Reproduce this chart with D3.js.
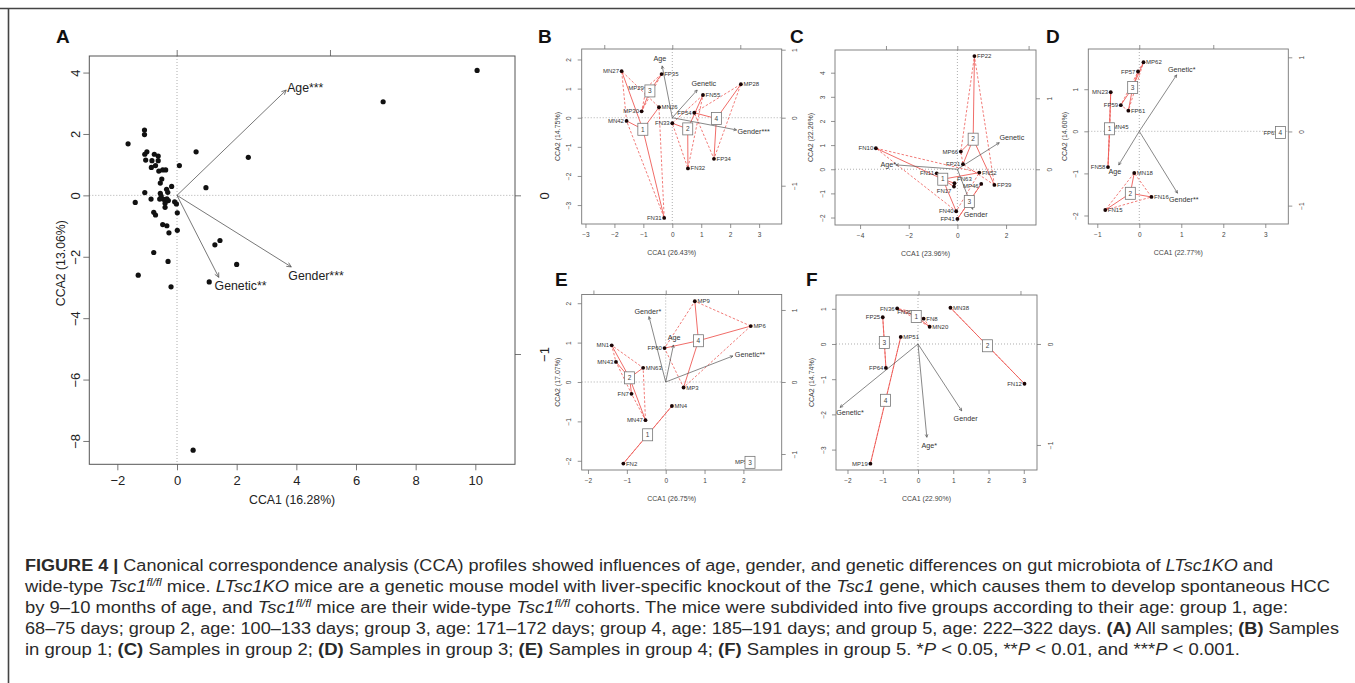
<!DOCTYPE html>
<html><head><meta charset="utf-8">
<script src="https://cdn.jsdelivr.net/npm/d3@7"></script>
<style>
body{margin:0;background:#fff}
svg{display:block}
text{font-family:"Liberation Sans",Arial,Helvetica,sans-serif}
</style>
</head><body>
<svg id="fig" width="1355" height="683"></svg>
<script>
// ================= DATA =================
// Panel A: all samples
const aX = [10.06,6.91,2.39,0.64,0.08,0.97,-1.09,-1.09,-1.64,-1.01,-1.08,-1.05,-0.76,-0.63,-0.84,-0.63,-0.72,-0.86,-0.61,-0.48,-0.38,-0.51,-0.56,-0.18,-0.35,-0.31,-1.08,-0.56,-0.53,-1.40,-0.87,-0.45,-0.37,-0.29,-0.08,-0.02,-0.40,-0.40,0.01,-0.78,-0.72,-0.48,-0.34,-0.27,0.01,1.44,1.27,2.00,-0.78,-0.30,-1.30,1.08,-0.20,0.54,-0.58,-0.34];
const aY = [4.07,3.05,1.24,1.42,0.97,0.25,2.13,1.98,1.68,1.42,1.34,1.15,1.34,1.28,1.13,1.13,0.97,0.91,0.79,0.83,0.83,0.53,0.40,0.29,0.20,0.10,0.09,0.07,-0.02,-0.23,-0.12,-0.13,-0.17,-0.17,-0.21,-0.28,-0.26,-0.39,-0.57,-0.55,-0.64,-0.95,-0.99,-1.22,-1.14,-1.47,-1.61,-2.25,-1.86,-2.15,-2.60,-2.82,-2.98,-8.30,-0.12,-0.11];
const aVars = ["Age***","Gender***","Genetic**"];
const aVarX = [3.66,3.83,1.40];
const aVarY = [3.43,-2.33,-2.67];
const aLabX = [4.30,4.66,2.13];
const aLabY = [3.52,-2.63,-2.95];

// Panel B: group 1
const bNames = ["MN27","FP35","MP29","MP30","MN26","MN42","FN33","FN55","FP54","MP28","FP34","FN32","FN31"];
const bX = [-1.75,-0.37,-0.89,-1.06,-0.46,-1.58,0.00,1.06,0.76,2.37,1.44,0.54,-0.28];
const bY = [1.60,1.50,1.04,0.22,0.36,-0.11,-0.19,0.78,0.17,1.15,-1.41,-1.74,-3.44];
const bGroup = [1,3,3,3,1,1,2,2,4,4,4,2,1];
const bVars = ["Age","Genetic","Gender***"];
const bVarX = [-0.35,0.86,2.22];
const bVarY = [1.78,0.95,-0.42];
const bLabX = [-0.43,1.09,2.81];
const bLabY = [2.04,1.18,-0.46];

// Panel C: group 2
const cNames = ["FP22","MP66","FP21","FN10","FN11","FN63","FN17","FN52","FP39","MP46","FN40","FP41"];
const cX = [0.70,0.14,0.23,-3.35,-0.85,-0.12,-0.14,0.90,1.52,0.98,-0.05,0.00];
const cY = [4.69,0.73,0.21,0.87,-0.17,-0.58,-0.72,-0.14,-0.65,-0.61,-1.74,-2.06];
const cGroup = [2,2,2,1,1,1,1,1,2,3,1,3];
const cVars = ["Age*","Genetic","Gender"];
const cVarX = [-2.53,1.72,0.63];
const cVarY = [0.18,1.10,-1.66];
const cLabX = [-2.84,2.24,0.75];
const cLabY = [0.21,1.32,-1.89];

// Panel D: group 3
const dNames = ["MP62","FP57","MN23","FP59","FP61","MN45","FN58","MN18","FN16","FN15","FP65"];
const dX = [0.10,-0.03,-0.68,-0.44,-0.26,-0.70,-0.745,-0.12,0.29,-0.81,3.36];
const dY = [1.64,1.42,0.93,0.62,0.49,0.10,-0.85,-0.99,-1.56,-1.87,-0.03];
const dGroup = [3,3,1,3,3,1,1,2,2,2,4];
const dVars = ["Genetic*","Age","Gender**"];
const dVarX = [0.89,-0.49,0.91];
const dVarY = [1.34,-0.80,-1.47];
const dLabX = [1.01,-0.58,1.06];
const dLabY = [1.48,-0.95,-1.63];

// Panel E: group 4
const eNames = ["MP9","MP6","FP60","MP3","MN1","MN43","MN63","FN7","MN47","MN4","FN2","MP5"];
const eX = [0.75,2.19,-0.03,0.46,-1.39,-1.28,-0.58,-0.88,-0.52,0.16,-1.09,2.17];
const eY = [2.05,1.42,0.86,-0.14,0.93,0.51,0.36,-0.30,-0.97,-0.61,-2.07,-2.04];
const eGroup = [4,4,4,4,2,2,2,2,2,1,1,3];
const eVars = ["Gender*","Age","Genetic**"];
const eVarX = [-0.43,0.20,1.73];
const eVarY = [1.66,0.94,0.66];
const eLabX = [-0.46,0.22,2.17];
const eLabY = [1.78,1.13,0.71];

// Panel F: group 5
const fNames = ["FN36","FN30","FN8","MN20","MN38","FN12","FP25","FP64","MP51","MP19"];
const fX = [-0.59,-0.10,0.16,0.33,0.92,3.02,-1.00,-0.91,-0.49,-1.35];
const fY = [1.01,0.90,0.72,0.49,1.03,-1.13,0.76,-0.68,0.20,-3.40];
const fGroup = [1,1,1,1,2,2,3,3,4,4];
const fVars = ["Genetic*","Gender","Age*"];
const fVarX = [-2.21,1.24,0.25];
const fVarY = [-1.80,-1.90,-2.65];
const fLabX = [-1.93,1.35,0.32];
const fLabY = [-1.95,-2.12,-2.88];

// axis titles
const xTitles = {A:"CCA1 (16.28%)",B:"CCA1 (26.43%)",C:"CCA1 (23.96%)",D:"CCA1 (22.77%)",E:"CCA1 (26.75%)",F:"CCA1 (22.90%)"};
const yTitles = {A:"CCA2 (13.06%)",B:"CCA2 (14.75%)",C:"CCA2 (22.26%)",D:"CCA2 (14.60%)",E:"CCA2 (17.07%)",F:"CCA2 (14.74%)"};

// sample labels drawn on the left side of their point
const leftLabels = new Set(["B:MN27","B:MP29","B:MP30","B:MN42","B:FN33","B:FP54","B:FN31",
 "C:MP66","C:FP21","C:FN10","C:FN11","C:FN17","C:MP46","C:FN40","C:FP41",
 "D:FP57","D:MN23","D:FP59","D:FN58","D:FP65",
 "E:FP60","E:MN1","E:MN43","E:FN7","E:MN47","E:MP5",
 "F:FN36","F:FN30","F:FP25","F:FP64","F:FN12","F:MP19"]);
// small vertical nudges (px) for crowded labels
const labelNudge = {"C:FN63":-4, "C:FN17":4, "C:MP46":2};

// ================= DRAW =================
const svg = d3.select("#fig");
const RED = "#ee5b57";
const fmt = d => d < 0 ? "\u2212" + Math.abs(d) : String(d);

// figure frame
svg.append("line").attr("x1",0).attr("x2",1355).attr("y1",8.5).attr("y2",8.5).attr("stroke","#444").attr("stroke-width",1.6);
svg.append("line").attr("x1",8.5).attr("x2",8.5).attr("y1",8).attr("y2",683).attr("stroke","#444").attr("stroke-width",1.6);

function arrow(g, x0, y0, x1, y1, head, color, w) {
  g.append("line").attr("x1",x0).attr("y1",y0).attr("x2",x1).attr("y2",y1)
    .attr("stroke",color).attr("stroke-width",w);
  const ang = Math.atan2(y1-y0, x1-x0);
  [Math.PI/7, -Math.PI/7].forEach(a => {
    g.append("line").attr("x1",x1).attr("y1",y1)
      .attr("x2",x1 - head*Math.cos(ang+a)).attr("y2",y1 - head*Math.sin(ang+a))
      .attr("stroke",color).attr("stroke-width",w);
  });
}

function frame(g, P) {
  const x = d3.scaleLinear().domain(P.xDom).range([P.l,P.r]);
  const y = d3.scaleLinear().domain(P.yDom).range([P.b,P.t]);
  const xt = d3.scaleLinear().domain(P.topDom).range([P.l,P.r]);
  const yr = d3.scaleLinear().domain(P.rightDom).range([P.b,P.t]);
  const fs = P.tickFont, tc = P.tickColor;
  // zero lines
  g.append("line").attr("x1",x(0)).attr("x2",x(0)).attr("y1",P.t).attr("y2",P.b)
    .attr("stroke","#999").attr("stroke-width",0.8).attr("stroke-dasharray","1,2");
  g.append("line").attr("x1",P.l).attr("x2",P.r).attr("y1",y(0)).attr("y2",y(0))
    .attr("stroke","#999").attr("stroke-width",0.8).attr("stroke-dasharray","1,2");
  // bottom axis
  const gb = g.append("g").attr("transform",`translate(0,${P.b})`)
    .call(d3.axisBottom(x).tickValues(P.xTicks).tickSize(P.tick).tickPadding(P.xPad).tickFormat(fmt));
  // left axis
  const gl = g.append("g").attr("transform",`translate(${P.l},0)`)
    .call(d3.axisLeft(y).tickValues(P.yTicks).tickSize(P.tick).tickFormat(fmt));
  gl.selectAll(".tick text").attr("x",null).attr("dy","0.35em").attr("text-anchor","middle")
    .attr("transform",`translate(${-P.yPad},0) rotate(-90)`);
  // top axis (ticks only)
  const gt = g.append("g").attr("transform",`translate(0,${P.t})`)
    .call(d3.axisTop(xt).tickValues(P.topTicks).tickSize(P.tick).tickFormat(""));
  // right axis
  const gr = g.append("g").attr("transform",`translate(${P.r},0)`)
    .call(d3.axisRight(yr).tickValues(P.rightTicks).tickSize(P.tick).tickFormat(fmt));
  gr.selectAll(".tick text").attr("x",null).attr("dy","0.35em").attr("text-anchor","middle")
    .attr("transform",`translate(${P.rPad},0) rotate(-90)`);
  [gb,gl,gt,gr].forEach(a => {
    a.select(".domain").remove();
    a.selectAll(".tick line").attr("stroke",P.boxColor).attr("stroke-width",0.8);
    a.selectAll(".tick text").attr("fill",tc).style("font-size",fs+"px").style("font-family","Liberation Sans, Arial, sans-serif");
  });
  // box
  g.append("rect").attr("x",P.l).attr("y",P.t).attr("width",P.r-P.l).attr("height",P.b-P.t)
    .attr("fill","none").attr("stroke",P.boxColor).attr("stroke-width",P.boxW);
  // titles
  g.append("text").attr("x",(P.l+P.r)/2 - 10).attr("y",P.b + P.xTitleOff).attr("dy","0.35em")
    .attr("text-anchor","middle").style("font-size",P.titleFont+"px").attr("fill",tc).text(xTitles[P.id]);
  g.append("text").attr("transform",`translate(${P.l - P.yTitleOff},${(P.t+P.b)/2 + (P.yTitleShift||0)}) rotate(-90)`)
    .attr("dy","0.35em").attr("text-anchor","middle").style("font-size",P.titleFont+"px").attr("fill",tc).text(yTitles[P.id]);
  // panel letter
  g.append("text").attr("x",P.letterX).attr("y",P.letterY).style("font-size","19px").style("font-weight","bold")
    .attr("fill","#111").text(P.id);
  return {x,y};
}

// ---------- Panel A ----------
(function(){
  const P = {id:"A", l:89.3, r:515, t:56, b:464.3,
    xDom:[-2.94,11.33], yDom:[-8.76,4.54], topDom:[-0.570,2.207], rightDom:[-1.695,0.878],
    xTicks:[-2,0,2,4,6,8,10], yTicks:[-8,-6,-4,-2,0,2,4], topTicks:[0,1], rightTicks:[-1,0],
    tick:6, xPad:5, yPad:14, rPad:29, tickFont:13, titleFont:12.3, tickColor:"#222",
    boxColor:"#555", boxW:1, xTitleOff:35, yTitleOff:28.6, yTitleShift:3,
    letterX:56, letterY:43};
  const g = svg.append("g");
  const {x,y} = frame(g,P);
  const ox = x(0), oy = y(0);
  aVars.forEach((v,i) => {
    arrow(g, ox, oy, x(aVarX[i]), y(aVarY[i]), 5, "#555", 0.8);
    g.append("text").attr("x",x(aLabX[i])).attr("y",y(aLabY[i])).attr("dy","0.35em")
      .attr("text-anchor","middle").style("font-size","12.3px").attr("fill","#222").text(v);
  });
  g.selectAll("circle.pt").data(aX.map((d,i)=>[d,aY[i]])).enter().append("circle")
    .attr("cx",d=>x(d[0])).attr("cy",d=>y(d[1])).attr("r",2.6).attr("fill","#111");
})();

// ---------- small panels ----------
function smallPanel(P, names, xs, ys, groups, vars, vx, vy, lx, ly) {
  const g = svg.append("g");
  const {x,y} = frame(g,P);
  const pts = names.map((n,i)=>({n, x:xs[i], y:ys[i], g:groups[i]}));
  const grpIds = Array.from(new Set(groups)).sort();
  const cents = grpIds.map(k => {
    const m = pts.filter(p=>p.g===k);
    return {k, m, cx:d3.mean(m,p=>p.x), cy:d3.mean(m,p=>p.y)};
  });
  // hulls (dashed)
  cents.forEach(c => {
    const pp = c.m.map(p=>[x(p.x),y(p.y)]);
    if (pp.length >= 3) {
      const h = d3.polygonHull(pp);
      g.append("path").attr("d","M"+h.join("L")+"Z").attr("fill","none")
        .attr("stroke",RED).attr("stroke-width",0.8).attr("stroke-dasharray","2.5,1.8");
    } else if (pp.length === 2) {
      g.append("line").attr("x1",pp[0][0]).attr("y1",pp[0][1]).attr("x2",pp[1][0]).attr("y2",pp[1][1])
        .attr("stroke",RED).attr("stroke-width",0.8).attr("stroke-dasharray","2.5,1.8");
    }
  });
  // spiders (solid)
  cents.forEach(c => {
    c.m.forEach(p => {
      g.append("line").attr("x1",x(c.cx)).attr("y1",y(c.cy)).attr("x2",x(p.x)).attr("y2",y(p.y))
        .attr("stroke",RED).attr("stroke-width",0.9);
    });
  });
  // biplot arrows
  const ox = x(0), oy = y(0);
  vars.forEach((v,i) => {
    arrow(g, ox, oy, x(vx[i]), y(vy[i]), 3.2, "#555", 0.7);
    g.append("text").attr("x",x(lx[i])).attr("y",y(ly[i])).attr("dy","0.35em")
      .attr("text-anchor","middle").style("font-size","7.2px").attr("fill","#333").text(v);
  });
  // points
  g.selectAll("circle.pt").data(pts).enter().append("circle")
    .attr("cx",d=>x(d.x)).attr("cy",d=>y(d.y)).attr("r",1.9).attr("fill","#1a0505");
  // sample labels
  pts.forEach(p => {
    const key = P.id+":"+p.n;
    const left = leftLabels.has(key);
    g.append("text").attr("x",x(p.x) + (left?-2.6:2.6)).attr("y",y(p.y) + (labelNudge[key]||0)).attr("dy","0.35em")
      .attr("text-anchor",left?"end":"start").style("font-size","6px").attr("fill","#333").text(p.n);
  });
  // group centroid boxes
  cents.forEach(c => {
    const cx = x(c.cx), cy = y(c.cy);
    g.append("rect").attr("x",cx-5).attr("y",cy-6).attr("width",10).attr("height",12)
      .attr("fill","#fff").attr("stroke","#777").attr("stroke-width",0.8);
    g.append("text").attr("x",cx).attr("y",cy).attr("dy","0.35em").attr("text-anchor","middle")
      .style("font-size","6.5px").attr("fill","#444").text(c.k);
  });
}

const common = {tick:4, xPad:4, yPad:12.5, rPad:13.5, tickFont:6.5, titleFont:7, tickColor:"#444",
  boxColor:"#777", boxW:0.9, xTitleOff:29, yTitleOff:24};

smallPanel(Object.assign({}, common, {id:"B", l:581.7, r:781.7, t:49, b:224,
  xDom:[-3.13,3.78], yDom:[-3.65,2.36], topDom:[-1.332,1.609], rightDom:[-1.563,1.01],
  xTicks:[-3,-2,-1,0,1,2,3], yTicks:[-3,-2,-1,0,1,2], topTicks:[-1,0,1], rightTicks:[-1,0,1],
  letterX:538, letterY:43}), bNames,bX,bY,bGroup,bVars,bVarX,bVarY,bLabX,bLabY);

smallPanel(Object.assign({}, common, {id:"C", l:835, r:1036, t:50, b:225,
  xDom:[-5.03,3.23], yDom:[-2.31,4.94], topDom:[-1.715,1.104], rightDom:[-0.785,1.68],
  xTicks:[-4,-2,0,2], yTicks:[-2,-1,0,1,2,3,4], topTicks:[-1,0,1], rightTicks:[0,1],
  letterX:790, letterY:43}), cNames,cX,cY,cGroup,cVars,cVarX,cVarY,cLabX,cLabY);

smallPanel(Object.assign({}, common, {id:"D", l:1088.3, r:1288.3, t:49, b:224,
  xDom:[-1.214,3.548], yDom:[-2.202,1.955], topDom:[-0.689,2.014], rightDom:[-1.248,1.112],
  xTicks:[-1,0,1,2,3], yTicks:[-2,-1,0,1], topTicks:[0,1], rightTicks:[-1,0,1],
  letterX:1046, letterY:43}), dNames,dX,dY,dGroup,dVars,dVarX,dVarY,dLabX,dLabY);

smallPanel(Object.assign({}, common, {id:"E", l:581.7, r:781.7, t:294.5, b:470,
  xDom:[-2.162,2.986], yDom:[-2.234,2.221], topDom:[-1.162,1.604], rightDom:[-1.222,1.215],
  xTicks:[-2,-1,0,1,2], yTicks:[-2,-1,0,1,2], topTicks:[-1,0,1], rightTicks:[-1,0,1],
  letterX:555, letterY:286}), eNames,eX,eY,eGroup,eVars,eVarX,eVarY,eLabX,eLabY);

smallPanel(Object.assign({}, common, {id:"F", l:836, r:1037, t:295, b:470,
  xDom:[-2.326,3.375], yDom:[-3.58,1.392], topDom:[-0.809,1.162], rightDom:[-1.248,0.485],
  xTicks:[-2,-1,0,1,2,3], yTicks:[-3,-2,-1,0,1], topTicks:[0,1], rightTicks:[-1,0],
  letterX:806, letterY:286}), fNames,fX,fY,fGroup,fVars,fVarX,fVarY,fLabX,fLabY);

// ---------- caption ----------
const caption = [
 [["b","FIGURE 4 | "],["n","Canonical correspondence analysis (CCA) profiles showed influences of age, gender, and genetic differences on gut microbiota of "],["i","LTsc1KO"],["n"," and"]],
 [["n","wide-type "],["i","Tsc1"],["s","fl/fl"],["n"," mice. "],["i","LTsc1KO"],["n"," mice are a genetic mouse model with liver-specific knockout of the "],["i","Tsc1"],["n"," gene, which causes them to develop spontaneous HCC"]],
 [["n","by 9–10 months of age, and "],["i","Tsc1"],["s","fl/fl"],["n"," mice are their wide-type "],["i","Tsc1"],["s","fl/fl"],["n"," cohorts. The mice were subdivided into five groups according to their age: group 1, age:"]],
 [["n","68–75 days; group 2, age: 100–133 days; group 3, age: 171–172 days; group 4, age: 185–191 days; and group 5, age: 222–322 days. "],["b","(A)"],["n"," All samples; "],["b","(B)"],["n"," Samples"]],
 [["n","in group 1; "],["b","(C)"],["n"," Samples in group 2; "],["b","(D)"],["n"," Samples in group 3; "],["b","(E)"],["n"," Samples in group 4; "],["b","(F)"],["n"," Samples in group 5. *"],["i","P"],["n"," < 0.05, **"],["i","P"],["n"," < 0.01, and ***"],["i","P"],["n"," < 0.001."]]
];
const capRight = [1273,1330,1288,1339,1240];
caption.forEach((line,li) => {
  const t = svg.append("text").attr("x",25).attr("y",571 + li*21)
    .style("font-size","16px").attr("fill","#2a2a2a")
    .attr("textLength", capRight[li]-25).attr("lengthAdjust","spacingAndGlyphs");
  let sup = false;
  line.forEach(([s,txt]) => {
    const ts = t.append("tspan").text(txt);
    if (s==="b") ts.style("font-weight","bold");
    if (s==="i") ts.style("font-style","italic");
    if (s==="s") { ts.style("font-style","italic").style("font-size","10.5px").attr("dy",-6); sup = true; }
    else if (sup) { ts.attr("dy",6); sup = false; }
  });
});
</script>
</body></html>
